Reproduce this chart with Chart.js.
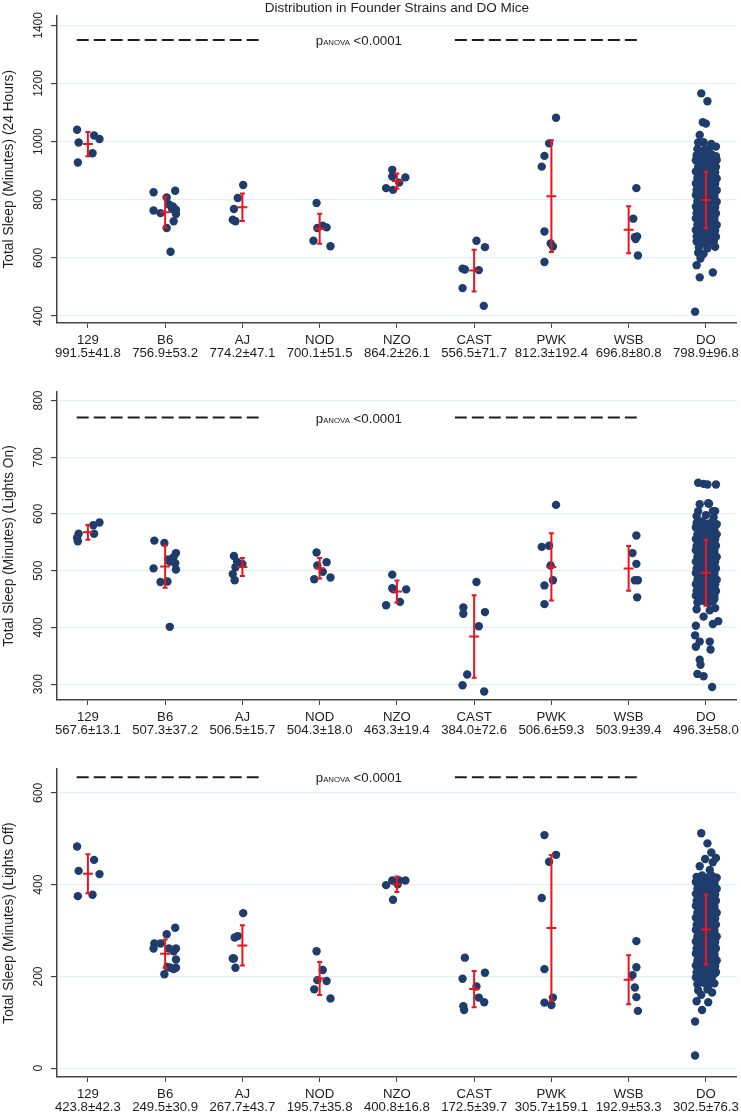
<!DOCTYPE html>
<html>
<head>
<meta charset="utf-8">
<script src="https://cdn.jsdelivr.net/npm/chart.js@4.4.1/dist/chart.umd.min.js"></script>
<style>
  body { margin: 0; background: #fff; }
  canvas { position: absolute; left: 0; }
</style>
</head>
<body>
<canvas id="c24" style="top:0px" width="741" height="360"></canvas>
<canvas id="cOn" style="top:360px" width="741" height="375"></canvas>
<canvas id="cOff" style="top:740px" width="741" height="373"></canvas>
<script>
const strains = ['129', 'B6', 'AJ', 'NOD', 'NZO', 'CAST', 'PWK', 'WSB', 'DO'];

// mean and SD as printed under each strain
const mean24 = [991.5, 756.9, 774.2, 700.1, 864.2, 556.5, 812.3, 696.8, 798.9];
const sd24 = [41.8, 53.2, 47.1, 51.5, 26.1, 71.7, 192.4, 80.8, 96.8];
const meanOn = [567.6, 507.3, 506.5, 504.3, 463.3, 384.0, 506.6, 503.9, 496.3];
const sdOn = [13.1, 37.2, 15.7, 18.0, 19.4, 72.6, 59.3, 39.4, 58.0];
const meanOff = [423.8, 249.5, 267.7, 195.7, 400.8, 172.5, 305.7, 192.9, 302.5];
const sdOff = [42.3, 30.9, 43.7, 35.8, 16.8, 39.7, 159.1, 53.3, 76.3];

const yTicks24 = [400, 600, 800, 1000, 1200, 1400];
const yTicksOn = [300, 400, 500, 600, 700, 800];
const yTicksOff = [0, 200, 400, 600];

// anova dashed segments (x in category units) and their level
const anovaSegs = [[0.855, 3.265], [5.75, 8.155]];
const anovaY24 = 1350, anovaYOn = 770, anovaYOff = 634;

// individual animals: [jitter, minutes]
const pts24 = [
  [[-0.14,1041],[-0.12,997],[-0.13,928],[0.08,1021],[0.15,1009],[0.06,960]],
  [[-0.15,826],[-0.15,763],[-0.06,754],[0.02,808],[0.05,784],[0.10,777],[0.14,766],[0.14,751],[0.11,726],[0.02,703],[0.07,621],[0.13,831],[0.09,768]],
  [[-0.11,768],[-0.125,731],[-0.09,726],[-0.06,806],[0.01,851]],
  [[-0.04,789],[-0.08,659],[-0.03,703],[0.04,711],[0.09,705],[0.14,640]],
  [[-0.14,840],[-0.06,903],[-0.06,880],[-0.05,834],[0.03,859],[0.11,877]],
  [[-0.15,563],[-0.12,560],[-0.15,496],[0.03,659],[0.06,558],[0.14,637],[0.125,435]],
  [[0.06,1082],[-0.03,994],[-0.09,951],[-0.125,914],[-0.09,691],[-0.01,650],[0.02,639],[-0.09,586]],
  [[0.10,840],[0.06,735],[0.11,674],[0.09,665],[0.08,671],[0.12,608]],
  [[-0.06,1166],[0.02,1139],[-0.04,1067],[0.0,1062],[-0.08,1023],[-0.10,997],[-0.03,998],[0.07,992],[0.13,983],
   [-0.12,575],[-0.08,533],[0.09,550],[-0.14,415],[-0.11,975],[0.04,976],[-0.02,972],
   [-0.12,953],[-0.06,958],[0.01,951],[0.07,957],[0.13,950],
   [-0.10,946],[-0.035,943],[0.035,947],[0.10,944],
   [-0.13,936],[-0.03,932],[0.04,938],[0.10,931],[0.14,937],
   [-0.09,926],[-0.02,923],[0.05,927],[0.11,924],
   [-0.10,914],[-0.05,918],[0.02,912],[0.08,917],[0.13,913],
   [-0.10,906],[-0.035,903],[0.035,907],[0.10,904],
   [-0.13,897],[-0.07,893],[-0.01,896],[0.05,891],[0.12,895],
   [-0.09,886],[-0.02,883],[0.05,887],[0.11,884],
   [-0.11,874],[-0.04,878],[0.03,872],[0.09,876],[0.14,873],
   [-0.10,866],[-0.035,863],[0.035,867],[0.10,864],
   [-0.13,856],[-0.06,852],[0.00,857],[0.06,853],[0.12,855],
   [-0.09,846],[-0.02,843],[0.05,847],[0.11,844],
   [-0.12,834],[-0.05,837],[0.02,832],[0.08,836],[0.14,833],
   [-0.10,826],[-0.035,823],[0.035,827],[0.10,824],
   [-0.13,816],[-0.07,812],[-0.01,817],[0.05,813],[0.11,815],
   [-0.09,806],[-0.02,803],[0.05,807],[0.11,804],
   [-0.11,794],[-0.04,797],[0.03,792],[0.09,796],[0.14,793],
   [-0.10,786],[-0.035,783],[0.035,787],[0.10,784],
   [-0.13,776],[-0.06,772],[0.00,777],[0.07,773],[0.12,775],
   [-0.09,766],[-0.02,763],[0.05,767],[0.11,764],
   [-0.12,754],[-0.05,757],[0.02,752],[0.08,756],[0.13,753],
   [-0.10,746],[-0.035,743],[0.035,747],[0.10,744],
   [-0.13,736],[-0.07,732],[-0.01,737],[0.05,733],[0.11,735],
   [-0.09,726],[-0.02,723],[0.05,727],[0.11,724],
   [-0.11,714],[-0.04,717],[0.03,712],[0.09,716],[0.14,713],
   [-0.10,706],[-0.035,703],[0.035,707],[0.10,704],
   [-0.13,696],[-0.06,692],[0.00,697],[0.06,693],[0.12,695],
   [-0.09,686],[-0.02,683],[0.05,687],[0.11,684],
   [-0.12,674],[-0.05,677],[0.02,672],[0.08,676],[0.13,673],
   [-0.10,666],[-0.035,663],[0.035,667],[0.10,664],
   [-0.12,656],[-0.04,652],[0.03,657],[0.10,654],
   [-0.09,636],[0.02,633],[0.12,638],[-0.10,618],[-0.03,614],[-0.07,598]]
];

const ptsOn = [
  [[-0.14,558],[-0.13,552],[-0.12,565],[0.07,580],[0.15,585],[0.08,565]],
  [[-0.14,553],[-0.01,549],[-0.15,504],[-0.06,480],[0.03,481],[0.06,401],[0.04,520],[0.06,516],[0.11,524],[0.14,531],[0.13,513],[0.14,502]],
  [[-0.11,526],[-0.07,516],[-0.09,506],[-0.125,494],[-0.10,483],[0.0,512]],
  [[-0.04,532],[-0.03,509],[0.09,515],[0.04,498],[-0.07,485],[0.14,488]],
  [[-0.06,493],[-0.06,469],[-0.04,467],[0.12,467],[0.04,445],[-0.14,439]],
  [[0.03,480],[-0.14,435],[-0.14,424],[0.14,427],[0.06,402],[-0.09,317],[-0.15,298],[0.13,287]],
  [[0.06,616],[-0.125,542],[-0.03,544],[-0.01,509],[0.02,483],[-0.09,474],[-0.09,441]],
  [[0.10,562],[0.05,531],[0.10,512],[0.08,483],[0.12,483],[0.11,453]],
  [[-0.10,655],[-0.03,653],[0.02,652],[0.13,652],[-0.08,617],[0.04,618],[0.12,605],[-0.10,605],[0.09,605],[0.03,619],
   [-0.12,596],[0.0,598],[0.10,594],
   [-0.12,584],[-0.05,587],[0.02,583],[0.08,586],[0.14,582],
   [-0.10,580],[-0.035,579],[0.035,581],[0.10,580],
   [-0.13,576],[-0.07,573],[-0.01,577],[0.05,574],[0.11,576],
   [-0.09,570],[-0.02,569],[0.05,571],[0.11,570],
   [-0.11,564],[-0.04,567],[0.03,563],[0.09,566],[0.14,564],
   [-0.10,560],[-0.035,559],[0.035,561],[0.10,560],
   [-0.13,556],[-0.06,553],[0.00,557],[0.06,554],[0.12,556],
   [-0.09,550],[-0.02,549],[0.05,551],[0.11,550],
   [-0.12,544],[-0.05,547],[0.02,543],[0.08,546],[0.13,544],
   [-0.10,540],[-0.035,539],[0.035,541],[0.10,540],
   [-0.13,536],[-0.07,533],[-0.01,537],[0.05,534],[0.11,536],
   [-0.09,530],[-0.02,529],[0.05,531],[0.11,530],
   [-0.11,524],[-0.04,527],[0.03,523],[0.09,526],[0.14,524],
   [-0.10,520],[-0.035,519],[0.035,521],[0.10,520],
   [-0.13,516],[-0.06,513],[0.00,517],[0.07,514],[0.12,516],
   [-0.09,510],[-0.02,509],[0.05,511],[0.11,510],
   [-0.12,504],[-0.05,507],[0.02,503],[0.08,506],[0.13,504],
   [-0.10,500],[-0.035,499],[0.035,501],[0.10,500],
   [-0.13,496],[-0.07,493],[-0.01,497],[0.05,494],[0.11,496],
   [-0.09,490],[-0.02,489],[0.05,491],[0.11,490],
   [-0.11,484],[-0.04,487],[0.03,483],[0.09,486],[0.14,484],
   [-0.10,480],[-0.035,479],[0.035,481],[0.10,480],
   [-0.13,476],[-0.06,473],[0.00,477],[0.06,474],[0.12,476],
   [-0.09,470],[-0.02,469],[0.05,471],[0.11,470],
   [-0.12,464],[-0.05,467],[0.02,463],[0.08,466],[0.13,464],
   [-0.10,460],[-0.035,459],[0.035,461],[0.10,460],
   [-0.13,456],[-0.07,453],[-0.01,457],[0.05,454],[0.11,456],
   [-0.09,450],[-0.02,449],[0.05,451],[0.11,450],
   [-0.11,444],[-0.04,447],[0.03,443],[0.09,446],
   [-0.12,432],[0.05,430],[0.12,434],
   [-0.03,419],[-0.13,403],[0.09,406],[0.16,411],[-0.14,386],[-0.08,375],[0.05,375],[-0.13,366],[0.06,361],
   [-0.08,343],[-0.07,334],[-0.11,318],[-0.03,314],[0.08,295]]
];

const ptsOff = [
  [[-0.14,483],[-0.12,430],[-0.13,375],[0.08,454],[0.15,423],[0.06,378]],
  [[-0.14,272],[-0.06,272],[-0.15,261],[0.02,292],[0.13,306],[0.05,261],[0.11,255],[0.14,261],[0.14,237],[0.03,221],[0.11,216],[0.14,219],[-0.01,205],[0.07,219]],
  [[0.01,338],[-0.06,288],[-0.10,285],[-0.125,239],[-0.11,239],[-0.09,219]],
  [[-0.04,255],[0.04,214],[-0.03,192],[0.09,190],[-0.07,172],[0.14,152]],
  [[-0.14,399],[-0.06,409],[0.03,409],[0.11,409],[-0.05,367],[0.01,401]],
  [[-0.12,241],[-0.15,195],[0.03,178],[0.14,208],[0.06,154],[0.13,144],[-0.14,135],[-0.13,127]],
  [[-0.09,508],[0.06,465],[-0.03,450],[-0.125,371],[-0.09,216],[0.02,154],[-0.09,143],[0.0,138]],
  [[0.10,277],[0.10,220],[0.05,203],[0.08,176],[0.10,155],[0.12,125]],
  [[-0.06,512],[0.02,490],[0.07,470],[-0.01,456],[0.13,458],[-0.08,440],[0.05,432],[0.09,449],
   [-0.12,417],[-0.05,420],[0.02,416],[0.08,419],[0.14,415],
   [-0.10,412],[-0.035,410],[0.035,411],[0.10,412],
   [-0.13,406],[-0.07,402],[-0.01,407],[0.05,403],[0.11,405],
   [-0.09,399],[-0.02,397],[0.05,398],[0.11,399],
   [-0.11,391],[-0.04,394],[0.03,390],[0.09,393],[0.14,391],
   [-0.10,386],[-0.035,384],[0.035,385],[0.10,386],
   [-0.13,380],[-0.06,376],[0.00,381],[0.06,377],[0.12,379],
   [-0.09,373],[-0.02,371],[0.05,372],[0.11,373],
   [-0.12,365],[-0.05,368],[0.02,364],[0.08,367],[0.13,365],
   [-0.10,360],[-0.035,358],[0.035,359],[0.10,360],
   [-0.13,354],[-0.07,350],[-0.01,355],[0.05,351],[0.11,353],
   [-0.09,347],[-0.02,345],[0.05,346],[0.11,347],
   [-0.11,339],[-0.04,342],[0.03,338],[0.09,341],[0.14,339],
   [-0.10,334],[-0.035,332],[0.035,333],[0.10,334],
   [-0.13,328],[-0.06,324],[0.00,329],[0.06,325],[0.12,327],
   [-0.09,321],[-0.02,319],[0.05,320],[0.11,321],
   [-0.12,313],[-0.05,316],[0.02,312],[0.08,315],[0.13,313],
   [-0.10,308],[-0.035,306],[0.035,307],[0.10,308],
   [-0.13,302],[-0.07,298],[-0.01,303],[0.05,299],[0.11,301],
   [-0.09,295],[-0.02,293],[0.05,294],[0.11,295],
   [-0.11,287],[-0.04,290],[0.03,286],[0.09,289],[0.14,287],
   [-0.10,282],[-0.035,280],[0.035,281],[0.10,282],
   [-0.13,276],[-0.06,272],[0.00,277],[0.06,273],[0.12,275],
   [-0.09,269],[-0.02,267],[0.05,268],[0.11,269],
   [-0.12,261],[-0.05,264],[0.02,260],[0.08,263],[0.13,261],
   [-0.10,256],[-0.035,254],[0.035,255],[0.10,256],
   [-0.13,250],[-0.07,246],[-0.01,251],[0.05,247],[0.11,249],
   [-0.09,243],[-0.02,241],[0.05,242],[0.11,243],
   [-0.11,235],[-0.04,238],[0.03,234],[0.09,237],[0.14,235],
   [-0.10,230],[-0.035,228],[0.035,229],[0.10,230],
   [-0.13,224],[-0.06,220],[0.00,225],[0.06,221],[0.12,223],
   [-0.09,217],[-0.02,215],[0.05,216],[0.11,217],
   [-0.12,209],[-0.05,212],[0.02,208],[0.08,211],[0.13,209],
   [-0.10,204],[-0.035,202],[0.035,203],[0.10,204],
   [-0.13,198],[-0.07,194],[0.01,199],[0.07,195],
   [-0.06,190],[0.02,191],[0.08,189],
   [-0.11,183],[-0.03,186],[0.04,182],[0.11,185],
   [-0.10,170],[0.02,172],[-0.06,160],[0.08,165],[-0.12,146],[-0.05,127],[0.03,144],[-0.14,102],[-0.14,28]]
];

const FONT = "'Liberation Sans', Arial, sans-serif";
const NAVY = '#1f3d6c';
const RED = '#e8161e';
const INK = '#1e1e1e';

const extras = {
  id: 'extras',
  afterDatasetsDraw(chart, args, opts) {
    const {ctx, chartArea} = chart;
    const x = chart.scales.x, y = chart.scales.y;
    ctx.save();
    // mean +- SD
    ctx.strokeStyle = RED;
    ctx.lineWidth = 2;
    opts.means.forEach((m, i) => {
      const px = x.getPixelForValue(i + 1);
      const top = y.getPixelForValue(m + opts.sds[i]);
      const bot = y.getPixelForValue(m - opts.sds[i]);
      const mid = y.getPixelForValue(m);
      ctx.beginPath();
      ctx.moveTo(px, top); ctx.lineTo(px, bot);
      ctx.moveTo(px - 2.5, top); ctx.lineTo(px + 2.5, top);
      ctx.moveTo(px - 2.5, bot); ctx.lineTo(px + 2.5, bot);
      ctx.moveTo(px - 5, mid); ctx.lineTo(px + 5, mid);
      ctx.stroke();
    });
    // p ANOVA label between the dashes
    const big = '13.3px ' + FONT, small = '7.8px ' + FONT;
    ctx.fillStyle = INK;
    ctx.textBaseline = 'alphabetic';
    ctx.textAlign = 'left';
    ctx.font = big;
    const w1 = ctx.measureText('p').width;
    const w3 = ctx.measureText(' <0.0001').width;
    ctx.font = small;
    const w2 = ctx.measureText('ANOVA').width;
    const cx = x.getPixelForValue((anovaSegs[0][1] + anovaSegs[1][0]) / 2);
    const base = y.getPixelForValue(opts.anovaY) + 5;
    let px = cx - (w1 + w2 + w3) / 2;
    ctx.font = big; ctx.fillText('p', px, base); px += w1;
    ctx.font = small; ctx.fillText('ANOVA', px, base); px += w2;
    ctx.font = big; ctx.fillText(' <0.0001', px, base);
    // rotated y tick labels
    ctx.font = '12px ' + FONT;
    ctx.textAlign = 'center';
    ctx.textBaseline = 'middle';
    y.ticks.forEach(t => {
      ctx.save();
      ctx.translate(chartArea.left - 18.5, y.getPixelForValue(t.value));
      ctx.rotate(-Math.PI / 2);
      ctx.fillText(String(t.value), 0, 0);
      ctx.restore();
    });
    ctx.restore();
  }
};

function makePanel(id, pts, means, sds, yTicks, yMin, yMax, anovaY, yTitle, padTop, xHeight, mainTitle) {
  const stats = means.map((m, i) => m.toFixed(1) + '±' + sds[i].toFixed(1));
  const points = pts.flatMap((g, i) => g.map(p => ({x: i + 1 + p[0], y: p[1]})));
  const datasets = [{
    data: points,
    pointRadius: 4.2,
    pointBorderWidth: 0,
    pointBackgroundColor: NAVY,
    showLine: false
  }];
  anovaSegs.forEach(s => {
    datasets.push({
      data: [{x: s[0], y: anovaY}, {x: s[1], y: anovaY}],
      showLine: true,
      borderColor: INK,
      borderWidth: 2,
      borderDash: [12, 5],
      pointRadius: 0
    });
  });

  return new Chart(document.getElementById(id), {
    type: 'scatter',
    data: {datasets},
    options: {
      responsive: false,
      animation: false,
      events: [],
      devicePixelRatio: 1,
      layout: {padding: {top: padTop, right: 3, left: 0, bottom: 0}},
      plugins: {
        legend: {display: false},
        tooltip: {enabled: false},
        title: {
          display: !!mainTitle,
          text: mainTitle || '',
          fullSize: false,
          color: INK,
          font: {family: FONT, size: 13.5, weight: 'normal', lineHeight: 1},
          padding: {top: 2, bottom: 0}
        },
        extras: {means, sds, anovaY}
      },
      scales: {
        x: {
          type: 'linear',
          min: 0.6,
          max: 9.4,
          afterBuildTicks: s => { s.ticks = strains.map((_, i) => ({value: i + 1})); },
          afterFit: s => { s.height = xHeight; s.paddingLeft = 0; s.paddingRight = 0; },
          ticks: {
            autoSkip: false,
            maxRotation: 0,
            minRotation: 0,
            padding: 6,
            color: INK,
            font: {family: FONT, size: 13.2, lineHeight: 1.0},
            callback: v => [strains[Math.round(v) - 1], stats[Math.round(v) - 1]]
          },
          grid: {drawOnChartArea: false, drawTicks: true, tickLength: 5, tickColor: '#444'},
          border: {color: '#444', width: 1.5}
        },
        y: {
          min: yMin,
          max: yMax,
          afterBuildTicks: s => { s.ticks = yTicks.map(v => ({value: v})); },
          afterFit: s => { s.width = 57; },
          ticks: {display: false},
          grid: {color: '#e6eef5', lineWidth: 1.2, drawTicks: true, tickLength: 6, tickColor: '#444'},
          border: {color: '#444', width: 1.5},
          title: {
            display: true,
            text: yTitle,
            color: INK,
            font: {family: FONT, size: 13.8},
            padding: {top: 1, bottom: 0}
          }
        }
      }
    },
    plugins: [extras]
  });
}

makePanel('c24', pts24, mean24, sd24, yTicks24, 376, 1434, anovaY24,
  'Total Sleep (Minutes) (24 Hours)', 0, 37, 'Distribution in Founder Strains and DO Mice');
makePanel('cOn', ptsOn, meanOn, sdOn, yTicksOn, 272, 815, anovaYOn,
  'Total Sleep (Minutes) (Lights On)', 32, 35, null);
makePanel('cOff', ptsOff, meanOff, sdOff, yTicksOff, -19, 652, anovaYOff,
  'Total Sleep (Minutes) (Lights Off)', 29, 36, null);
</script>
</body>
</html>
